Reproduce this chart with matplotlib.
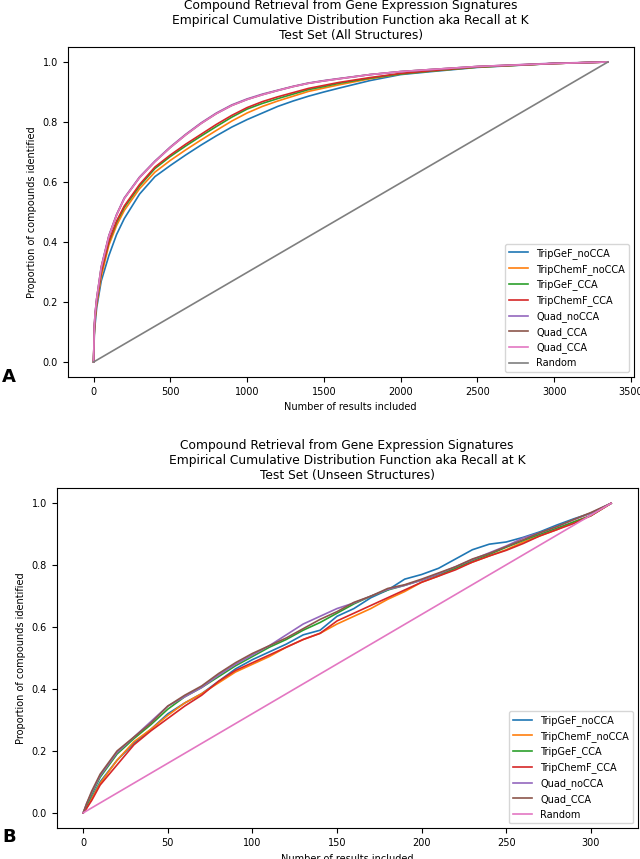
import numpy as np
import matplotlib
matplotlib.use("Agg")
import matplotlib.pyplot as plt

# Panel A: all structures (recall at K)
xa = [0, 5, 10, 20, 50, 100, 150, 200, 300, 400, 500, 600, 700, 800, 900, 1000, 1100, 1200,
      1300, 1400, 1500, 1600, 1800, 2000, 2200, 2500, 3000, 3350]
a_tripgef_nocca = [0, 0.09, 0.125, 0.18, 0.27, 0.355, 0.425, 0.478, 0.56, 0.618, 0.655, 0.69, 0.723, 0.754, 0.783,
                   0.808, 0.83, 0.852, 0.87, 0.886, 0.9, 0.913, 0.938, 0.958, 0.968, 0.982, 0.995, 1.0]
a_tripchemf_nocca = [0, 0.10, 0.14, 0.19, 0.285, 0.39, 0.455, 0.505, 0.578, 0.633, 0.672, 0.707, 0.74, 0.772, 0.803,
                     0.83, 0.852, 0.87, 0.886, 0.902, 0.913, 0.924, 0.944, 0.96, 0.97, 0.983, 0.995, 1.0]
a_tripgef_cca = [0, 0.11, 0.15, 0.20, 0.30, 0.40, 0.465, 0.515, 0.587, 0.645, 0.685, 0.72, 0.753, 0.785, 0.816,
                 0.843, 0.862, 0.878, 0.893, 0.908, 0.918, 0.929, 0.946, 0.96, 0.97, 0.983, 0.995, 1.0]
a_tripchemf_cca = [0, 0.11, 0.15, 0.20, 0.30, 0.403, 0.47, 0.52, 0.592, 0.65, 0.69, 0.726, 0.759, 0.792, 0.822,
                   0.848, 0.868, 0.884, 0.898, 0.912, 0.922, 0.932, 0.948, 0.962, 0.971, 0.984, 0.995, 1.0]
a_quad_nocca = [0, 0.12, 0.16, 0.21, 0.318, 0.422, 0.492, 0.547, 0.617, 0.67, 0.717, 0.759, 0.797, 0.83, 0.857,
                0.877, 0.893, 0.906, 0.919, 0.93, 0.938, 0.945, 0.958, 0.968, 0.975, 0.985, 0.996, 1.0]
a_quad_cca = [0, 0.12, 0.16, 0.21, 0.315, 0.42, 0.49, 0.545, 0.615, 0.668, 0.715, 0.757, 0.795, 0.828, 0.855,
              0.875, 0.891, 0.905, 0.918, 0.929, 0.937, 0.944, 0.958, 0.968, 0.975, 0.985, 0.995, 1.0]
a_quad_cca2 = [0, 0.12, 0.16, 0.21, 0.315, 0.42, 0.49, 0.545, 0.615, 0.668, 0.715, 0.757, 0.795, 0.828, 0.855,
               0.875, 0.891, 0.905, 0.918, 0.929, 0.937, 0.944, 0.958, 0.968, 0.975, 0.985, 0.995, 1.0]
a_random_x = [0, 3350]
a_random_y = [0, 1.0]

# Panel B: unseen structures
xb = [0, 2, 5, 10, 20, 30, 40, 50, 60, 70, 80, 90, 100, 110, 120, 130, 140, 150, 160,
      170, 180, 190, 200, 210, 220, 230, 240, 250, 260, 270, 280, 290, 300, 312]
b_tripgef_nocca = [0, 0.02, 0.05, 0.10, 0.17, 0.225, 0.27, 0.32, 0.355, 0.385, 0.425, 0.465, 0.495, 0.52, 0.545, 0.575, 0.59,
                   0.635, 0.66, 0.695, 0.72, 0.755, 0.77, 0.79, 0.82, 0.85, 0.868, 0.875, 0.89, 0.908, 0.93, 0.95, 0.968, 1.0]
b_tripchemf_nocca = [0, 0.015, 0.045, 0.095, 0.17, 0.23, 0.27, 0.315, 0.355, 0.385, 0.42, 0.455, 0.48, 0.505, 0.535, 0.56, 0.58,
                     0.61, 0.635, 0.66, 0.69, 0.715, 0.745, 0.765, 0.79, 0.81, 0.83, 0.85, 0.875, 0.895, 0.915, 0.94, 0.96, 1.0]
b_tripgef_cca = [0, 0.025, 0.06, 0.115, 0.19, 0.24, 0.285, 0.335, 0.375, 0.405, 0.44, 0.475, 0.505, 0.535, 0.56, 0.59, 0.615,
                 0.645, 0.675, 0.70, 0.72, 0.735, 0.752, 0.77, 0.79, 0.815, 0.835, 0.858, 0.88, 0.90, 0.92, 0.94, 0.96, 1.0]
b_tripchemf_cca = [0, 0.015, 0.04, 0.09, 0.155, 0.22, 0.265, 0.305, 0.345, 0.38, 0.425, 0.46, 0.485, 0.51, 0.535, 0.56, 0.58,
                   0.62, 0.645, 0.67, 0.695, 0.72, 0.745, 0.765, 0.785, 0.81, 0.83, 0.848, 0.87, 0.895, 0.915, 0.935, 0.96, 1.0]
b_quad_nocca = [0, 0.03, 0.065, 0.12, 0.195, 0.245, 0.295, 0.345, 0.375, 0.405, 0.445, 0.48, 0.51, 0.54, 0.575, 0.61, 0.635,
                0.66, 0.678, 0.70, 0.722, 0.735, 0.752, 0.772, 0.795, 0.818, 0.84, 0.862, 0.888, 0.905, 0.925, 0.947, 0.968, 1.0]
b_quad_cca = [0, 0.03, 0.07, 0.125, 0.20, 0.245, 0.29, 0.345, 0.38, 0.41, 0.45, 0.485, 0.515, 0.54, 0.565, 0.595, 0.625,
              0.65, 0.68, 0.70, 0.725, 0.737, 0.755, 0.775, 0.795, 0.82, 0.838, 0.86, 0.882, 0.905, 0.925, 0.948, 0.97, 1.0]
b_random_x = [0, 312]
b_random_y = [0, 1.0]

title_a = ("Compound Retrieval from Gene Expression Signatures\n"
           "Empirical Cumulative Distribution Function aka Recall at K\n"
           "Test Set (All Structures)")
title_b = ("Compound Retrieval from Gene Expression Signatures\n"
           "Empirical Cumulative Distribution Function aka Recall at K\n"
           "Test Set (Unseen Structures)")

fig = plt.figure(figsize=(6.4, 8.59), dpi=100)
ax1 = fig.add_axes([0.106, 0.5611, 0.884, 0.3842])
ax2 = fig.add_axes([0.0888, 0.0357, 0.9073, 0.3964])

lw = 1.2
ax1.plot(xa, a_tripgef_nocca, color="tab:blue", lw=lw, label="TripGeF_noCCA")
ax1.plot(xa, a_tripchemf_nocca, color="tab:orange", lw=lw, label="TripChemF_noCCA")
ax1.plot(xa, a_tripgef_cca, color="tab:green", lw=lw, label="TripGeF_CCA")
ax1.plot(xa, a_tripchemf_cca, color="tab:red", lw=lw, label="TripChemF_CCA")
ax1.plot(xa, a_quad_nocca, color="tab:purple", lw=lw, label="Quad_noCCA")
ax1.plot(xa, a_quad_cca, color="tab:brown", lw=lw, label="Quad_CCA")
ax1.plot(xa, a_quad_cca2, color="tab:pink", lw=lw, label="Quad_CCA")
ax1.plot(a_random_x, a_random_y, color="tab:gray", lw=lw, label="Random")

ax2.plot(xb, b_tripgef_nocca, color="tab:blue", lw=lw, label="TripGeF_noCCA")
ax2.plot(xb, b_tripchemf_nocca, color="tab:orange", lw=lw, label="TripChemF_noCCA")
ax2.plot(xb, b_tripgef_cca, color="tab:green", lw=lw, label="TripGeF_CCA")
ax2.plot(xb, b_tripchemf_cca, color="tab:red", lw=lw, label="TripChemF_CCA")
ax2.plot(xb, b_quad_nocca, color="tab:purple", lw=lw, label="Quad_noCCA")
ax2.plot(xb, b_quad_cca, color="tab:brown", lw=lw, label="Quad_CCA")
ax2.plot(b_random_x, b_random_y, color="tab:pink", lw=lw, label="Random")

for ax, t in [(ax1, title_a), (ax2, title_b)]:
    ax.set_title(t, fontsize=8.8)
    ax.set_xlabel("Number of results included", fontsize=7)
    ax.set_ylabel("Proportion of compounds identified", fontsize=7)
    ax.tick_params(labelsize=7)
    ax.legend(loc="lower right", fontsize=7)

ax1.set_xticks(np.arange(0, 3501, 500))
ax2.set_xticks(np.arange(0, 301, 50))

fig.text(0.003, 1 - 377.5 / 859, "A", fontsize=13, fontweight="bold", va="center", ha="left")
fig.text(0.003, 1 - 837 / 859, "B", fontsize=13, fontweight="bold", va="center", ha="left")

fig.savefig("out.png", dpi=100)
